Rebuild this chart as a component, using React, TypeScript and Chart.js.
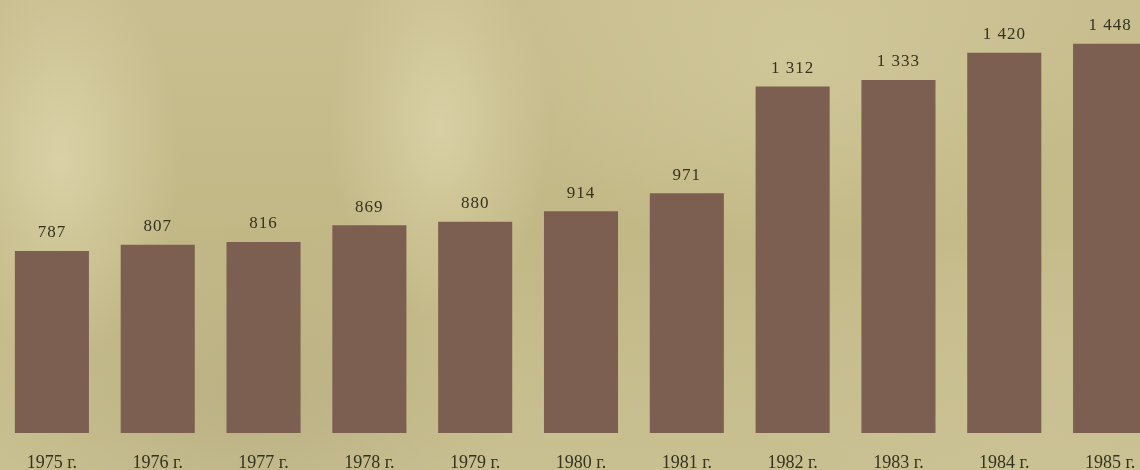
import React, { useEffect, useRef } from "react";
import { Chart, registerables } from "chart.js";

Chart.register(...registerables);

const years = ["1975 г.", "1976 г.", "1977 г.", "1978 г.", "1979 г.", "1980 г.", "1981 г.", "1982 г.", "1983 г.", "1984 г.", "1985 г."];
const values = [787, 807, 816, 869, 880, 914, 971, 1312, 1333, 1420, 1448];

const fmt = (v: number) => {
  const s = String(v);
  return s.length > 3 ? s.slice(0, s.length - 3) + " " + s.slice(-3) : s;
};

const valueLabels = {
  id: "valueLabels",
  afterDatasetsDraw(chart: any) {
    const ctx = chart.ctx;
    const meta = chart.getDatasetMeta(0);
    ctx.save();
    ctx.font = "17px 'Liberation Serif', serif";
    ctx.fillStyle = "#35321f";
    ctx.textAlign = "center";
    ctx.textBaseline = "middle";
    try { (ctx as any).letterSpacing = "1px"; } catch (e) {}
    meta.data.forEach((el: any, i: number) => {
      ctx.fillText(fmt(values[i]), el.x, el.y - 18);
    });
    ctx.restore();
  },
};

export default function App() {
  const ref = useRef<HTMLCanvasElement | null>(null);
  useEffect(() => {
    if (!ref.current) return;
    const chart = new Chart(ref.current, {
      type: "bar",
      data: {
        labels: years,
        datasets: [
          {
            data: values,
            backgroundColor: "#7d5f51",
            borderWidth: 0,
            categoryPercentage: 1,
            barPercentage: 0.7,
          },
        ],
      },
      options: {
        animation: false,
        responsive: false,
        maintainAspectRatio: false,
        layout: { padding: { top: 0, left: 0, right: 0, bottom: 0 } },
        plugins: { legend: { display: false }, tooltip: { enabled: false } },
        scales: {
          x: {
            grid: { display: false, drawTicks: false, tickLength: 0 },
            border: { display: false },
            afterFit(scale: any) {
              scale.height = 37;
            },
            ticks: {
              color: "#35321f",
              padding: 19,
              font: { family: "'Liberation Serif', serif", size: 18 },
              maxRotation: 0,
              autoSkip: false,
            },
          },
          y: {
            display: false,
            min: 206,
            max: 1588,
          },
        },
      },
      plugins: [valueLabels],
    });
    return () => chart.destroy();
  }, []);

  const bg = [
    "radial-gradient(ellipse 120px 200px at 60px 160px, rgba(235,228,190,0.55), rgba(235,228,190,0) 100%)",
    "radial-gradient(ellipse 110px 190px at 440px 130px, rgba(235,228,190,0.5), rgba(235,228,190,0) 100%)",
    "radial-gradient(ellipse 300px 200px at 800px 60px, rgba(225,218,175,0.35), rgba(225,218,175,0) 100%)",
    "radial-gradient(ellipse 260px 180px at 250px 400px, rgba(150,140,100,0.25), rgba(150,140,100,0) 100%)",
    "radial-gradient(ellipse 300px 200px at 1050px 350px, rgba(210,200,160,0.35), rgba(210,200,160,0) 100%)",
    "linear-gradient(180deg, #c8be8f 0%, #c2b886 50%, #c9c092 100%)",
  ].join(",");

  return (
    <div
      style={{
        position: "fixed",
        left: 0,
        top: 0,
        width: 1140,
        height: 470,
        overflow: "hidden",
        background: bg,
      }}
    >
      <canvas
        ref={ref}
        width={1164}
        height={470}
        style={{ position: "absolute", left: -1, top: 0, width: 1164, height: 470 }}
      />
    </div>
  );
}
